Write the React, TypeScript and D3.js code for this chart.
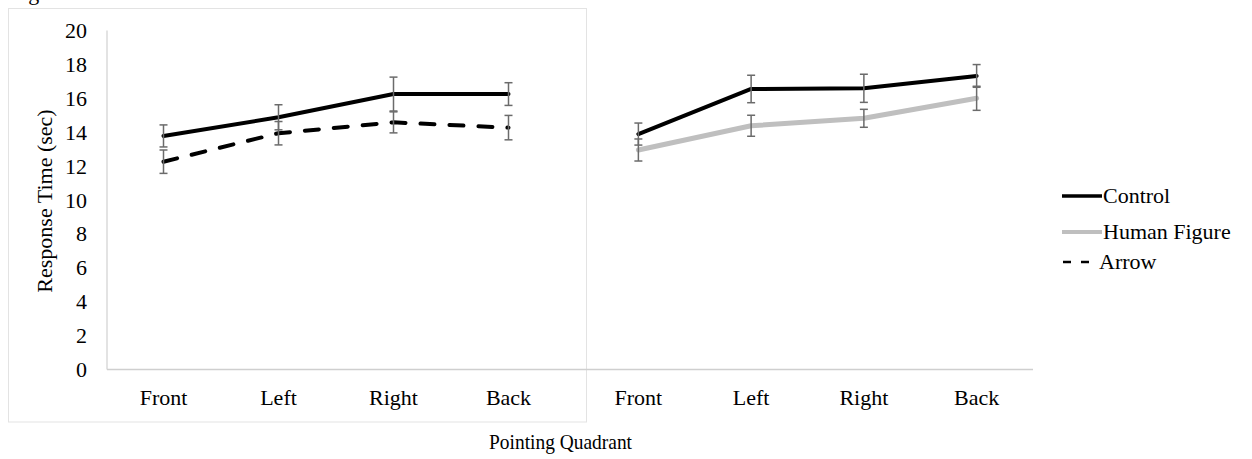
import React from "react";
import * as d3 from "d3";

const categories = ["Front", "Left", "Right", "Back"];
const yTicks = [0, 2, 4, 6, 8, 10, 12, 14, 16, 18, 20];

// Left panel
const leftControl = [13.78, 14.88, 16.25, 16.25];
const leftControlErr = [0.65, 0.74, 1.0, 0.67];
const leftArrow = [12.26, 13.94, 14.58, 14.27];
const leftArrowErr = [0.69, 0.69, 0.62, 0.72];

// Right panel
const rightControl = [13.89, 16.55, 16.59, 17.32];
const rightControlErr = [0.65, 0.81, 0.83, 0.67];
const rightHuman = [12.95, 14.38, 14.82, 16.0];
const rightHumanErr = [0.65, 0.62, 0.53, 0.71];

const legendItems = ["Control", "Human Figure", "Arrow"];

const FONT = "'Liberation Serif', 'Times New Roman', serif";

type Series = { values: number[]; errs: number[]; color: string; width: number; dash?: string };

export default function App() {
  const W = 1252, H = 459;
  const y = d3.scaleLinear().domain([0, 20]).range([369.5, 30.5]);
  const xLeft = d3.scaleBand<string>().domain(categories).range([106, 566]);
  const xRight = d3.scaleBand<string>().domain(categories).range([582, 1033]);

  const leftSeries: Series[] = [
    { values: leftArrow, errs: leftArrowErr, color: "#000", width: 4, dash: "14,15" },
    { values: leftControl, errs: leftControlErr, color: "#000", width: 4 },
  ];
  const rightSeries: Series[] = [
    { values: rightHuman, errs: rightHumanErr, color: "#bfbfbf", width: 5 },
    { values: rightControl, errs: rightControlErr, color: "#000", width: 4 },
  ];

  const renderPanel = (x: d3.ScaleBand<string>, series: Series[], key: string) => {
    const cx = (c: string) => (x(c) as number) + x.bandwidth() / 2;
    return (
      <g key={key}>
        {series.map((s, si) => {
          const line = d3
            .line<number>()
            .x((_, i) => cx(categories[i]))
            .y((v) => y(v));
          return (
            <path
              key={"l" + si}
              d={line(s.values) || ""}
              fill="none"
              stroke={s.color}
              strokeWidth={s.width}
              strokeDasharray={s.dash}
              strokeLinecap="round"
              strokeLinejoin="round"
            />
          );
        })}
        {series.map((s, si) =>
          s.values.map((v, i) => {
            const xx = cx(categories[i]);
            const y1 = y(v + s.errs[i]);
            const y2 = y(v - s.errs[i]);
            return (
              <g key={"e" + si + "-" + i} stroke="#6b6b6b" strokeWidth={1.5}>
                <line x1={xx} x2={xx} y1={y1} y2={y2} />
                <line x1={xx - 4} x2={xx + 4} y1={y1} y2={y1} />
                <line x1={xx - 4} x2={xx + 4} y1={y2} y2={y2} />
              </g>
            );
          })
        )}
        {categories.map((c) => (
          <text key={"t" + c} x={cx(c)} y={405} textAnchor="middle" fontSize={22} fontFamily={FONT} fill="#000">
            {c}
          </text>
        ))}
      </g>
    );
  };

  return (
    <svg
      width={W}
      height={H}
      style={{ position: "absolute", left: 0, top: 0, display: "block", background: "#fff" }}
    >
      <rect x={0} y={0} width={W} height={H} fill="#fff" />
      <text x={10} y={0} fontSize={22} fontFamily={FONT} fill="#000">Figure</text>
      {/* left panel frame */}
      <rect x={8.5} y={8.5} width={578} height={413.5} fill="none" stroke="#e3e3e3" strokeWidth={1} />
      {/* y axis line */}
      <line x1={107} x2={107} y1={y(20)} y2={y(0)} stroke="#d0d0d0" strokeWidth={1.2} />
      {/* x axis lines */}
      <line x1={107} x2={586} y1={y(0)} y2={y(0)} stroke="#cfcfcf" strokeWidth={1.5} />
      <line x1={586} x2={1033} y1={y(0)} y2={y(0)} stroke="#cfcfcf" strokeWidth={1.5} />
      {yTicks.map((t) => (
        <text key={t} x={87} y={y(t) + 7.5} textAnchor="end" fontSize={22} fontFamily={FONT} fill="#000">
          {t}
        </text>
      ))}
      <text
        transform={`translate(52,201) rotate(-90)`}
        textAnchor="middle"
        fontSize={22}
        fontFamily={FONT}
        fill="#000"
      >
        Response Time (sec)
      </text>
      {renderPanel(xLeft, leftSeries, "left")}
      {renderPanel(xRight, rightSeries, "right")}
      <text
        x={489}
        y={449}
        fontSize={21}
        fontFamily={FONT}
        fill="#000"
        textLength={143}
        lengthAdjust="spacingAndGlyphs"
      >
        Pointing Quadrant
      </text>
      {/* legend */}
      {legendItems.map((name, i) => {
        const ly = [196, 232, 262][i];
        const isDash = name === "Arrow";
        const color = name === "Human Figure" ? "#bfbfbf" : "#000";
        return (
          <g key={name}>
            {isDash ? (
              <>
                <line x1={1063} x2={1071} y1={ly} y2={ly} stroke="#000" strokeWidth={2.5} />
                <line x1={1081} x2={1089} y1={ly} y2={ly} stroke="#000" strokeWidth={2.5} />
              </>
            ) : (
              <line x1={1062} x2={1102} y1={ly} y2={ly} stroke={color} strokeWidth={name === "Human Figure" ? 4 : 3.5} />
            )}
            <text x={isDash ? 1099 : 1103} y={ly + 7} fontSize={22} fontFamily={FONT} fill="#000">
              {name}
            </text>
          </g>
        );
      })}
    </svg>
  );
}
